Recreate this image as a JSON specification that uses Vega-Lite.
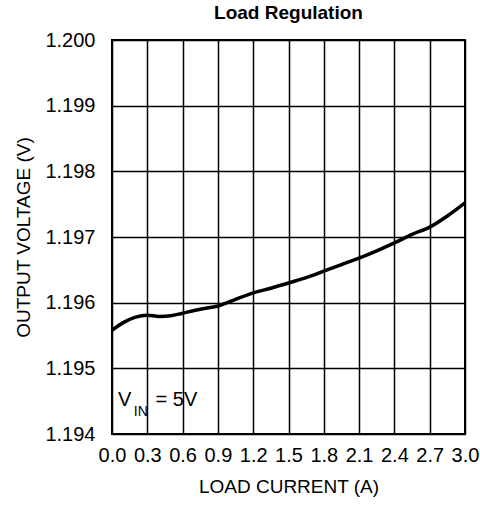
{
  "$schema": "https://vega.github.io/schema/vega-lite/v6.json",
  "autosize": {"type": "none"},
  "padding": {"left": 112, "top": 40, "right": 15, "bottom": 71},
  "width": 353,
  "height": 394,
  "background": "white",
  "title": {
    "text": "Load Regulation",
    "font": "Liberation Sans",
    "fontSize": 19,
    "fontWeight": "bold",
    "color": "black",
    "anchor": "middle",
    "offset": 7
  },
  "config": {
    "view": {"stroke": "black", "strokeWidth": 2},
    "axis": {
      "labelFont": "Liberation Sans",
      "titleFont": "Liberation Sans",
      "labelColor": "black",
      "titleColor": "black",
      "labelFontSize": 20,
      "titleFontSize": 19,
      "titleFontWeight": "normal",
      "gridColor": "black",
      "gridOpacity": 1,
      "gridWidth": 1.5,
      "domain": false,
      "ticks": false
    }
  },
  "datasets": {
    "curve": [
      {"current": 0.0, "voltage": 1.19558},
      {"current": 0.1, "voltage": 1.19570},
      {"current": 0.2, "voltage": 1.19578},
      {"current": 0.3, "voltage": 1.19581},
      {"current": 0.4, "voltage": 1.19579},
      {"current": 0.5, "voltage": 1.19580},
      {"current": 0.6, "voltage": 1.19584},
      {"current": 0.75, "voltage": 1.19590},
      {"current": 0.9, "voltage": 1.19595},
      {"current": 1.05, "voltage": 1.19605},
      {"current": 1.2, "voltage": 1.19615},
      {"current": 1.35, "voltage": 1.19622},
      {"current": 1.5, "voltage": 1.19630},
      {"current": 1.65, "voltage": 1.19638},
      {"current": 1.8, "voltage": 1.19648},
      {"current": 1.95, "voltage": 1.19658},
      {"current": 2.1, "voltage": 1.19668},
      {"current": 2.25, "voltage": 1.19679},
      {"current": 2.4, "voltage": 1.19691},
      {"current": 2.55, "voltage": 1.19704},
      {"current": 2.7, "voltage": 1.19715},
      {"current": 2.85, "voltage": 1.19732},
      {"current": 3.0, "voltage": 1.19752}
    ],
    "note": [
      {"part": "V", "current": 0.05, "voltage": 1.19452},
      {"part": "IN", "current": 0.185, "voltage": 1.19433},
      {"part": "= 5V", "current": 0.37, "voltage": 1.19452}
    ]
  },
  "encoding": {
    "x": {
      "field": "current", "type": "quantitative",
      "scale": {"domain": [0, 3], "nice": false, "zero": false},
      "axis": {
        "title": "LOAD CURRENT (A)",
        "values": [0, 0.3, 0.6, 0.9, 1.2, 1.5, 1.8, 2.1, 2.4, 2.7, 3.0],
        "format": ".1f",
        "labelPadding": 11,
        "titlePadding": 12,
        "labelFlush": false,
        "labelOverlap": false
      }
    },
    "y": {
      "field": "voltage", "type": "quantitative",
      "scale": {"domain": [1.194, 1.2], "nice": false, "zero": false},
      "axis": {
        "title": "OUTPUT VOLTAGE (V)",
        "values": [1.194, 1.195, 1.196, 1.197, 1.198, 1.199, 1.2],
        "format": ".3f",
        "labelPadding": 17,
        "titlePadding": 11,
        "labelFlush": false,
        "labelOverlap": false
      }
    }
  },
  "layer": [
    {
      "data": {"name": "curve"},
      "mark": {"type": "line", "color": "black", "strokeWidth": 3.5, "interpolate": "monotone", "clip": true}
    },
    {
      "data": {"name": "note"},
      "transform": [{"filter": "datum.part !== 'IN'"}],
      "mark": {"type": "text", "align": "left", "baseline": "middle", "font": "Liberation Sans", "fontSize": 20, "color": "black"},
      "encoding": {
        "text": {"field": "part"}
      }
    },
    {
      "data": {"name": "note"},
      "transform": [{"filter": "datum.part === 'IN'"}],
      "mark": {"type": "text", "align": "left", "baseline": "middle", "font": "Liberation Sans", "fontSize": 14, "color": "black"},
      "encoding": {
        "text": {"field": "part"}
      }
    }
  ]
}
